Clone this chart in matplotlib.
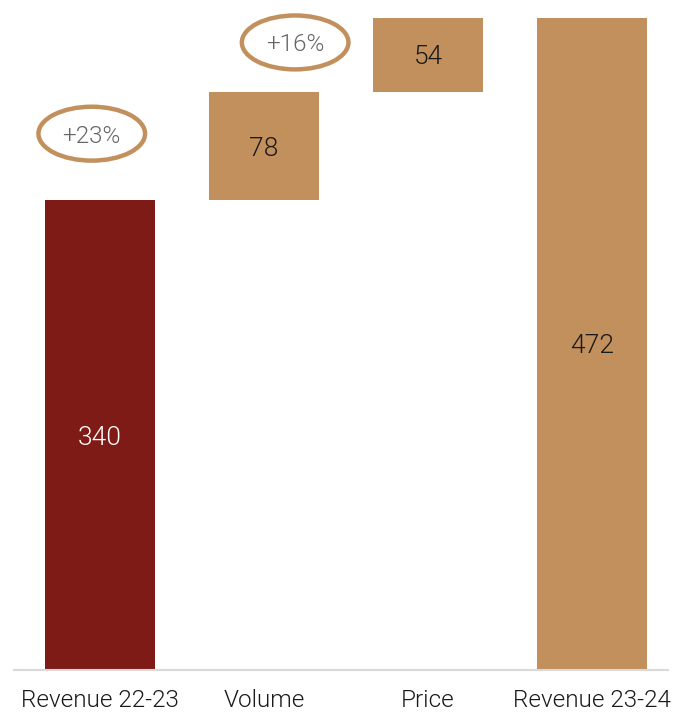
import numpy as np
import matplotlib.pyplot as plt
from matplotlib.patches import Ellipse

# data
categories = ["Revenue 22-23", "Volume", "Price", "Revenue 23-24"]
values = [340, 78, 54, 472]
is_total = [True, False, False, True]
growth_labels = ["+23%", "+16%"]

dark_red = "#7f1b17"
tan = "#c2905c"

plt.rcParams['font.family'] = ['Roboto', 'DejaVu Sans']

fig = plt.figure(figsize=(6.9, 7.12), dpi=100)
ax = fig.add_axes([14/690, 42/712, 654/690, 670/712])

# waterfall bottoms
bottoms = []
running = 0
for v, tot in zip(values, is_total):
    if tot:
        bottoms.append(0)
        running = v
    else:
        bottoms.append(running)
        running += v

x = np.arange(len(categories))
colors = [dark_red, tan, tan, tan]
ax.bar(x, values, bottom=bottoms, width=0.67, color=colors, zorder=2)

for xi, v, b, c in zip(x, values, bottoms, colors):
    tc = "white" if c == dark_red else "#1a1a1a"
    ax.text(xi, b + v/2, str(v), ha="center", va="center_baseline", fontsize=19,
            fontweight=300, color=tc)

# growth ellipses: above the start bar and beside the volume step
ell_pos = [(x[0] - 0.05, values[0] + 48), (x[1] + 0.19, bottoms[2] + 36)]
for (ex, ey), lab in zip(ell_pos, growth_labels):
    ax.add_patch(Ellipse((ex, ey), 0.65, 39, fill=False, edgecolor=tan,
                         lw=3.2, clip_on=False, zorder=3))
    ax.text(ex, ey, lab, ha="center", va="center_baseline", fontsize=17.5,
            fontweight=300, color="#666666")

ax.set_xlim(-0.524, 3.463)
ax.set_ylim(0, 484.7)
ax.set_xticks(x)
ax.set_xticklabels(categories, fontsize=17.5, fontweight=300, color="#1a1a1a")
ax.tick_params(axis="x", length=0, pad=14)
ax.set_yticks([])
for s in ["top", "right", "left"]:
    ax.spines[s].set_visible(False)
ax.spines["bottom"].set_color("#d9d9d9")
ax.spines["bottom"].set_linewidth(1.5)

fig.savefig("out.png", dpi=100)
